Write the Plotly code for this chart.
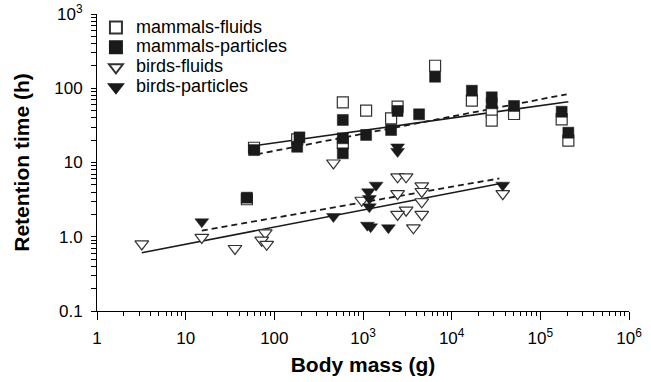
import plotly.graph_objects as go

# ---- data (body mass in g, retention time in h) ----
mf_mass = [59, 49, 181, 592, 592, 1084, 2074, 2455, 6500, 16900, 28300, 28300, 50500, 174000, 207000]
mf_time = [15.8, 3.2, 20.5, 64.7, 18.3, 49.9, 39.4, 56.4, 201, 68, 48.3, 36.6, 45, 38.2, 19.7]

mp_mass = [59, 49, 192, 181, 592, 592, 592, 1084, 2074, 2455, 4290, 6500, 16900, 28300, 28300, 50500, 174000, 207000]
mp_time = [14.7, 3.36, 21.8, 16.3, 37.4, 21.2, 13.3, 23.5, 27.4, 49.4, 44.6, 143, 92.7, 75.5, 62.7, 57.7, 48.3, 25.2]

bf_mass = [3.2, 15.2, 36, 79, 72, 82, 464, 969, 2455, 3060, 2455, 3060, 2455, 4600, 4600, 4600, 4600, 3700, 37700]
bf_time = [0.80, 0.98, 0.695, 1.13, 0.90, 0.79, 9.85, 3.1, 6.4, 6.4, 3.8, 2.28, 2.0, 4.83, 4.07, 2.96, 2.0, 1.32, 3.8]

bp_mass = [15.2, 464, 1405, 1150, 1180, 1180, 1120, 1220, 1933, 2455, 2455, 37700]
bp_time = [1.59, 1.87, 4.95, 4.03, 3.27, 2.53, 1.43, 1.36, 1.32, 16.2, 14.1, 4.95]

series_names = ["mammals-fluids", "mammals-particles", "birds-fluids", "birds-particles"]

# regression lines (end points, data units)
mam_solid_x = [59, 207000]
mam_solid_y = [16.8, 65.9]
mam_dash_x = [63.5, 198000]
mam_dash_y = [12.9, 83]
bird_solid_x = [3.2, 36700]
bird_solid_y = [0.61, 5.25]
bird_dash_x = [15.2, 34500]
bird_dash_y = [1.21, 6.1]

x_tickvals = [1, 10, 100, 1e3, 1e4, 1e5, 1e6]
x_ticktext = ["1", "10", "100", "10<sup>3</sup>", "10<sup>4</sup>", "10<sup>5</sup>", "10<sup>6</sup>"]
y_tickvals = [0.1, 1, 10, 100, 1000]
y_ticktext = ["0.1", "1.0", "10", "100", "10<sup>3</sup>"]

FONT = "Arial, Liberation Sans, sans-serif"


def legend_label(s):
    return '<span style="font-size:18px">' + s + "</span>"


fig = go.Figure()

for xs, ys, dash in [(mam_solid_x, mam_solid_y, "solid"), (mam_dash_x, mam_dash_y, "6px,4px"),
                     (bird_solid_x, bird_solid_y, "solid"), (bird_dash_x, bird_dash_y, "6px,4px")]:
    fig.add_trace(go.Scatter(x=xs, y=ys, mode="lines", showlegend=False, hoverinfo="skip",
                             line=dict(color="#1a1a1a", width=1.6 if dash == "solid" else 1.8, dash=dash)))

fig.add_trace(go.Scatter(x=mf_mass, y=mf_time, mode="markers", name=legend_label(series_names[0]),
                         marker=dict(symbol="square", size=11, color="white",
                                     line=dict(color="#333333", width=1.2))))
fig.add_trace(go.Scatter(x=mp_mass, y=mp_time, mode="markers", name=legend_label(series_names[1]),
                         marker=dict(symbol="square", size=11, color="#1a1a1a",
                                     line=dict(color="#1a1a1a", width=0.5))))
fig.add_trace(go.Scatter(x=bf_mass, y=bf_time, mode="markers", name=legend_label(series_names[2]),
                         marker=dict(symbol="triangle-down", size=12, color="white",
                                     line=dict(color="#333333", width=1.2))))
fig.add_trace(go.Scatter(x=bp_mass, y=bp_time, mode="markers", name=legend_label(series_names[3]),
                         marker=dict(symbol="triangle-down", size=12, color="#1a1a1a",
                                     line=dict(color="#1a1a1a", width=0.5))))

fig.update_layout(
    width=651, height=382,
    margin=dict(l=97, r=22, t=14, b=71, autoexpand=False),
    paper_bgcolor="white", plot_bgcolor="white",
    font=dict(family=FONT, color="black", size=17),
    legend=dict(x=-0.002, y=1.005, xanchor="left", yanchor="top",
                font=dict(size=13, family=FONT), bgcolor="rgba(0,0,0,0)",
                itemsizing="constant", tracegroupgap=0),
    xaxis=dict(type="log", range=[0, 6], showgrid=False, zeroline=False,
               showline=True, linecolor="black", linewidth=1,
               ticks="outside", ticklen=8, tickwidth=1, tickcolor="black",
               tickvals=x_tickvals, ticktext=x_ticktext, ticklabelstandoff=4,
               tickfont=dict(size=17),
               minor=dict(ticks="outside", ticklen=4, tickwidth=1, tickcolor="black", dtick="D1"),
               title=dict(text="<b>Body mass (g)</b>", font=dict(size=21), standoff=9)),
    yaxis=dict(type="log", range=[-1, 3], showgrid=False, zeroline=False,
               showline=True, linecolor="black", linewidth=1,
               ticks="outside", ticklen=5, tickwidth=1, tickcolor="black",
               tickvals=y_tickvals, ticktext=y_ticktext, ticklabelstandoff=5,
               tickfont=dict(size=17),
               minor=dict(ticks="outside", ticklen=5, tickwidth=1, tickcolor="black", dtick="D1"),
               title=dict(text="<b>Retention time (h)</b>", font=dict(size=21), standoff=18)),
)

fig.write_html("out.html")
